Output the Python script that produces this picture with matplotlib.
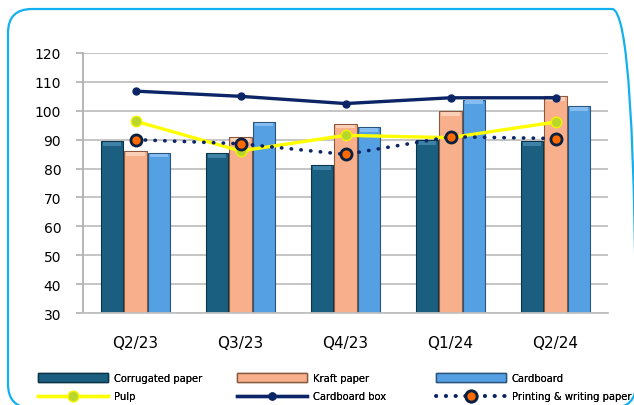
#!/usr/bin/env python3
import matplotlib
matplotlib.use("Agg")
import matplotlib.pyplot as plt
import numpy as np
from matplotlib.lines import Line2D
from matplotlib.patches import FancyBboxPatch, Patch

quarters = ["Q2/23", "Q3/23", "Q4/23", "Q1/24", "Q2/24"]
corrugated = [89.4, 85.3, 81.2, 89.8, 89.5]
kraft = [86.1, 90.9, 95.5, 99.9, 105.0]
cardboard = [85.5, 96.2, 94.3, 103.9, 101.6]
pulp = [96.4, 86.1, 91.5, 90.7, 96.1]
cardboard_box = [106.8, 105.0, 102.5, 104.5, 104.5]
printing = [90.0, 88.6, 84.9, 91.0, 90.4]

plt.rcParams["font.family"] = ["DejaVu Sans"]

W, H = 634, 406
fig = plt.figure(figsize=(W / 100, H / 100), dpi=100)

# rounded frame around the whole chart (inches, y from bottom)
frame = FancyBboxPatch((8 / 100, (H - 409) / 100), (636 - 8) / 100, (409 - 10) / 100,
                       boxstyle="round,pad=0,rounding_size=0.24",
                       transform=fig.dpi_scale_trans, fill=False,
                       edgecolor="#12b0ee", linewidth=1.6, clip_on=False)
fig.patches.append(frame)

ax = fig.add_axes([83 / W, 1 - 314 / H, (608 - 83) / W, (314 - 54) / H])

x = np.arange(len(quarters))
bw = 0.215
off = 0.224
bars = [
    (corrugated, "#1a5e80", "#0d3347", "#3d82a6"),
    (kraft, "#f8b08c", "#8a5a40", "#fbd0b6"),
    (cardboard, "#559fe3", "#2a557d", "#86bdf0"),
]
for i, (vals, col, edge, light) in enumerate(bars):
    pos = x + (i - 1) * off
    vals = np.array(vals)
    ax.bar(pos, vals - 30, bw, bottom=30, color=col,
           edgecolor=edge, linewidth=0.8, zorder=2)
    # light bevel at the top of each bar
    ax.bar(pos, 1.3, bw * 0.8, bottom=vals - 1.6, color=light,
           linewidth=0, zorder=2.5)

box_style = dict(color="#0b2566", lw=2.4, marker="o", ms=5, mfc="#0b2566", mec="#0b2566")
pulp_style = dict(color="#ffff00", lw=2.4, marker="o", ms=7.5, mfc="#b8d62c",
                  mec="#f2f200", mew=1.0)
print_style = dict(color="#0b2566", lw=2.6, linestyle=(0, (0.1, 2.6)),
                   dash_capstyle="round", marker="o", ms=8, mfc="#ff6a00",
                   mec="#0b2040", mew=2.0)

ax.plot(x, cardboard_box, zorder=4, **box_style)
ax.plot(x, pulp, zorder=5, **pulp_style)
ax.plot(x, printing, zorder=6, **print_style)

ax.set_xlim(-0.5, 4.5)
ax.set_ylim(30, 120)
ax.set_yticks(range(30, 121, 10))
ax.set_xticks(x)
ax.set_xticklabels(quarters, fontsize=11)
ax.tick_params(axis="y", labelsize=10, length=4.7, width=1.2, color="#b0b0b0", pad=11)
ax.tick_params(axis="x", length=0, pad=16)
ax.grid(axis="y", color="#c0c0c0", linewidth=1.3, zorder=0)
ax.set_axisbelow(True)
for s in ["top", "right"]:
    ax.spines[s].set_visible(False)
ax.spines["left"].set_color("#b0b0b0")
ax.spines["left"].set_linewidth(1.3)
ax.spines["bottom"].set_color("#c0c0c0")
ax.spines["bottom"].set_linewidth(1.3)

# legend: three columns, placed one by one
columns = [
    (38, [Patch(facecolor="#1a5e80", edgecolor="#0d3347", label="Corrugated paper"),
          Line2D([], [], label="Pulp", **pulp_style)]),
    (237, [Patch(facecolor="#f8b08c", edgecolor="#8a5a40", label="Kraft paper"),
           Line2D([], [], label="Cardboard box", **box_style)]),
    (436, [Patch(facecolor="#559fe3", edgecolor="#2a557d", label="Cardboard"),
           Line2D([], [], label="Printing & writing paper", **print_style)]),
]
for xpx, hs in columns:
    leg = fig.legend(handles=hs, loc="upper left",
                     bbox_to_anchor=(xpx / W, 1 - 374 / H), frameon=False,
                     fontsize=7.2, handlelength=7.0, handleheight=0.9,
                     handletextpad=0.6, labelspacing=0.85, borderpad=0.0,
                     borderaxespad=0.0)
    fig.add_artist(leg)

fig.savefig("out.png", dpi=100)
